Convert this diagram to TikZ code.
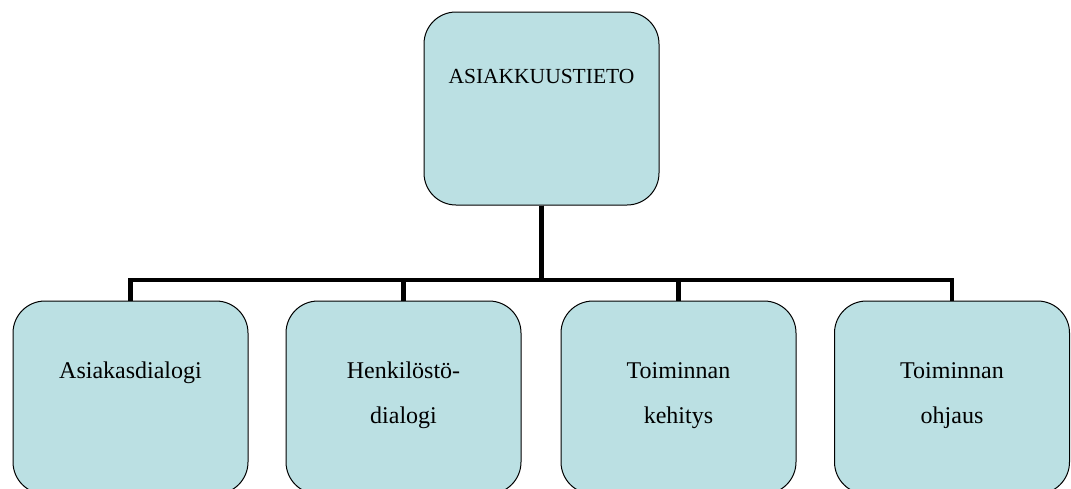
\documentclass[tikz,border=0pt]{standalone}
\usepackage{fontspec}
\setmainfont{Liberation Serif}
\definecolor{boxfill}{RGB}{187,224,227}
\tikzset{
	box/.style={draw=black, fill=boxfill, line width=1pt, rounded corners=32pt,
		minimum width=235pt, minimum height=193pt, inner sep=0pt},
	lbl/.style={anchor=base, inner sep=0pt, font=\fontsize{24}{28}\selectfont},
	link/.style={line width=4.5pt}
}
\begin{document}
\begin{tikzpicture}[x=1pt,y=-1pt]
	\useasboundingbox (0,0) rectangle (1071,488);
	\clip (0,0) rectangle (1071,488);
	% les boites
	\node[box] (top) at (541.5,108.5) {};
	\node[box] (b1) at (130.5,397.5) {};
	\node[box] (b2) at (403.5,397.5) {};
	\node[box] (b3) at (678.5,397.5) {};
	\node[box] (b4) at (952,397.5) {};
	\coordinate (bus) at (541.5,280);
% les liens
	\foreach \b in {b1,b2,b3,b4}
		\draw[link] (top.south) |- (bus) -| (\b.north);
% les textes
	\node[lbl, font=\fontsize{21.5}{26}\selectfont] (topt) at (541.5,83) {ASIAKKUUSTIETO};
	\node[lbl] (b1t) at (130.5,378) {Asiakasdialogi};
	\node[lbl] (b2t) at (403.5,378) {Henkilöstö-};
	\node[lbl] (b2u) at (403.5,423) {dialogi};
	\node[lbl] (b3t) at (678.5,378) {Toiminnan};
	\node[lbl] (b3u) at (678.5,423) {kehitys};
	\node[lbl] (b4t) at (952,378) {Toiminnan};
	\node[lbl] (b4u) at (952,423) {ohjaus};
\end{tikzpicture}
\end{document}
